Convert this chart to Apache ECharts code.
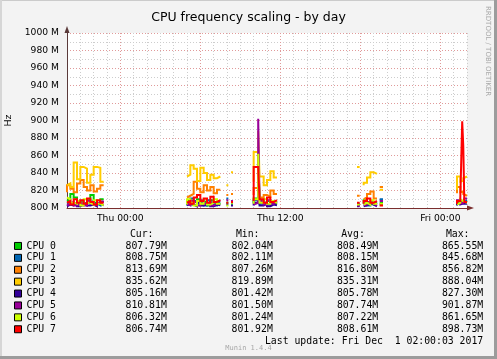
<!DOCTYPE html>
<html><head><meta charset="utf-8">
<script src="https://cdn.jsdelivr.net/npm/echarts@6/dist/echarts.min.js"></script>
<style>html,body{margin:0;padding:0;background:#f3f3f3}#c{width:497px;height:359px}</style>
</head><body><div id="c"></div><script>
// Sample times: hours relative to Thu 00:00 (null rows = gaps in the data)
const hours = [-4,-3.75,-3.5,-3.25,-3,-2.75,-2.5,-2.25,-2,-1.75,-1.5,-1.25, -1,
  5,5.25,5.5,5.75,6,6.25,6.5,6.75,7,7.25,7.5, 7.75, 7.95,8.1, 8.2, 8.3,8.45, 9,
  10,10.34,10.44,10.75,11,11.25,11.5,11.75, 12, 17.75,17.95, 18.1,
  18.25,18.5,18.75,19,19.25, 19.35, 19.45,19.7, 20, 25.25,25.5,25.64,25.72,25.8,26];

const cpu0 = [808,810,816,812,806,808,805,809,815,806,804,810, null,
  806,809,804,807,810,806,808,803,809,806,804, null, 806,806, null, 805,805, null,
  807,811,865,809,805,808,806,804, null, 804,804, null,
  805,809,806,804,806, null, 806,806, null, 805,807,806,806,807,808];
const cpu1 = [805,807,804,806,808,805,803,806,808,805,803,807, null,
  807,804,811,808,805,807,803,809,806,803,806, null, 811,811, null, 806,806, null,
  806,809,845,805,807,804,806,808, null, 805,805, null,
  804,806,803,807,805, null, 810,810, null, 804,806,808,807,808,809];
const cpu2 = [818,826,822,818,828,832,824,820,826,819,822,826, null,
  812,814,816,830,822,818,826,820,824,817,821, null, 815,815, null, 816,816, null,
  815,823,856,812,815,813,820,816, null, 814,814, null,
  810,812,816,819,811, null, 824,824, null, 817,824,818,819,816,814];
const cpu3 = [826,828,824,852,833,847,845,829,838,847,846,830, null,
  836,838,849,845,831,846,840,832,838,834,836, null, 826,826, null, 841,841, null,
  830,864,888,836,826,832,842,835, null, 847,847, null,
  826,829,835,841,839, null, 821,821, null, 821,836,830,831,834,836];
const cpu4 = [802,804,803,805,802,804,806,803,804,802,805,803, null,
  803,805,804,802,806,803,804,805,802,804,803, null, 804,804, null, 803,803, null,
  803,806,827,803,805,802,804,803, null, 802,802, null,
  802,803,805,804,802, null, 804,804, null, 803,807,804,805,804,805];
const cpu5 = [803,805,807,803,805,806,803,808,805,803,806,808, null,
  805,803,808,806,803,809,805,807,803,805,808, null, 809,809, null, 808,808, null,
  804,806,902,808,804,809,805,807, null, 803,803, null,
  803,804,807,805,803, null, 808,808, null, 806,809,805,806,808,811];
const cpu6 = [812,810,806,805,808,803,810,806,804,809,805,803, null,
  804,810,806,803,808,805,810,804,806,810,805, null, 803,803, null, 806,806, null,
  805,810,862,806,810,805,808,806, null, 804,804, null,
  804,806,804,809,805, null, 805,805, null, 804,806,810,808,807,806];
const cpu7 = [806,808,804,810,806,809,805,811,807,804,809,806, null,
  806,808,805,812,815,808,811,806,813,807,809, null, 806,806, null, 807,807, null,
  808,847,845,810,806,812,807,809, null, 806,806, null,
  805,808,811,806,808, null, 803,803, null, 805,808,812,899,871,807];

const seriesNames = ['CPU 0','CPU 1','CPU 2','CPU 3','CPU 4','CPU 5','CPU 6','CPU 7'];
const seriesColors = ['#00CC00','#0066B3','#FF8000','#FFCC00','#330099','#990099','#CCFF00','#FF0000'];
const cpuValues = [cpu0,cpu1,cpu2,cpu3,cpu4,cpu5,cpu6,cpu7];

const curVals = ['807.79M','808.75M','813.69M','835.62M','805.16M','810.81M','806.32M','806.74M'];
const minVals = ['802.04M','802.11M','807.26M','819.89M','801.42M','801.50M','801.24M','801.92M'];
const avgVals = ['808.49M','808.15M','816.80M','835.31M','805.78M','807.74M','807.22M','808.61M'];
const maxVals = ['865.55M','845.68M','856.82M','888.04M','827.30M','901.87M','861.65M','898.73M'];
const colHeaders = ['Cur:','Min:','Avg:','Max:'];

const xTickHours = [0, 12, 24];
const xTickLabels = ['Thu 00:00','Thu 12:00','Fri 00:00'];

const SANS = 'DejaVu Sans', MONO = 'DejaVu Sans Mono';
const MINOR = '#cdcdcd', MAJOR = '#e09a9a';

// RRD-style step rendering: each sample holds over the interval that ends at it;
// null samples break the line.
function stepData(vals) {
  const out = [];
  for (let j = 0; j < hours.length; j++) {
    const v = vals[j];
    if (v == null) { out.push([hours[j], '-']); continue; }
    if (j > 0 && vals[j - 1] != null) out.push([hours[j - 1], v]);
    out.push([hours[j], v]);
  }
  return out;
}

const chart = echarts.init(document.getElementById('c'), null, {renderer:'canvas'});

const graphics = [];
graphics.push({type:'rect', shape:{x:0,y:0,width:497,height:1}, style:{fill:'#cbcbcb'}, silent:true});
graphics.push({type:'rect', shape:{x:0,y:0,width:2,height:359}, style:{fill:'#d6d6d6'}, silent:true});
graphics.push({type:'rect', shape:{x:494,y:0,width:3,height:359}, style:{fill:'#9c9c9c'}, silent:true});
graphics.push({type:'rect', shape:{x:0,y:356,width:497,height:3}, style:{fill:'#9c9c9c'}, silent:true});

function txt(text, x, y, align, size, family, color, extra) {
  return Object.assign({type:'text', x:x, y:y, silent:true,
    style:{text:text, fill:color||'#000', fontSize:size, fontFamily:family,
      align:align, textAlign:align, verticalAlign:'middle', textVerticalAlign:'middle'}}, extra||{});
}
const colRight = [166.8, 272.8, 378.2, 483.2];
const headRight = [153.5, 259.5, 364.8, 469.5];
const cols = [curVals, minVals, avgVals, maxVals];
colHeaders.forEach((h, c) => graphics.push(txt(h, headRight[c], 234, 'right', 9.8, MONO)));
cols.forEach((vals, c) => vals.forEach((v, r) =>
  graphics.push(txt(v, colRight[c], 246 + r * 11.9, 'right', 9.8, MONO))));
graphics.push(txt('Last update: Fri Dec  1 02:00:03 2017', 483.2, 341.8, 'right', 9.8, MONO));
graphics.push(txt('Munin 1.4.4', 248.5, 348.3, 'center', 7, MONO, '#a8a8a8'));
graphics.push(txt('RRDTOOL / TOBI OETIKER', 487.5, 6, 'left', 7, SANS, '#a8a8a8', {rotation:-Math.PI/2}));

const labelMap = {};
xTickHours.forEach((h, i) => { labelMap[h] = xTickLabels[i]; });

chart.setOption({
  animation: false,
  backgroundColor: '#f3f3f3',
  title: {text:'CPU frequency scaling - by day', left:'center', top:6,
    textStyle:{fontFamily:SANS, fontSize:12.5, fontWeight:'normal', color:'#000'}},
  grid: {left:67, top:33, width:400, height:175, show:true, backgroundColor:'#ffffff',
    borderWidth:0, outerBoundsMode:'none', containLabel:false},
  legend: {orient:'vertical', left:14, top:240, padding:0, itemWidth:7, itemHeight:7, itemGap:0,
    icon:'rect', selectedMode:false, data:seriesNames,
    itemStyle:{borderColor:'#000', borderWidth:1},
    textStyle:{fontFamily:MONO, fontSize:9.8, color:'#000', lineHeight:11.9}},
  xAxis: {type:'value', min:-4, max:26, interval:1,
    axisLine:{onZero:false, symbol:['none','triangle'], symbolSize:[5,7], symbolOffset:[0,3.5],
      lineStyle:{color:'#7a2e2e', width:1}},
    axisTick:{show:false},
    axisLabel:{formatter:v => labelMap[v] || '', margin:6, fontFamily:SANS, fontSize:9.2, color:'#000'},
    splitLine:{show:true, lineStyle:{type:[1,2], width:1,
      color:[MINOR,MINOR,MINOR,MINOR,MAJOR,MINOR]}}},
  yAxis: {type:'value', min:800, max:1000, interval:10,
    name:'Hz', nameLocation:'middle', nameRotate:90, nameGap:49,
    nameTextStyle:{fontFamily:SANS, fontSize:9.5, color:'#000'},
    axisLine:{show:true, onZero:false, symbol:['none','triangle'], symbolSize:[5,7], symbolOffset:[0,3.5],
      lineStyle:{color:'#5a3a3a', width:1}},
    axisTick:{show:false},
    axisLabel:{formatter:v => (v % 20 === 0 ? v + ' M' : ''), margin:8, fontFamily:SANS, fontSize:9.2, color:'#000'},
    splitLine:{show:true, lineStyle:{type:[1,2], width:1, color:[MAJOR, MINOR]}}},
  graphic: graphics,
  series: cpuValues.map((vals, i) => ({
    type:'line', name:seriesNames[i], symbol:'none', showSymbol:false,
    connectNulls:false, lineStyle:{width:2, color:seriesColors[i], join:'miter'}, itemStyle:{color:seriesColors[i]},
    emphasis:{disabled:true},
    data: stepData(vals)
  }))
});
</script></body></html>
